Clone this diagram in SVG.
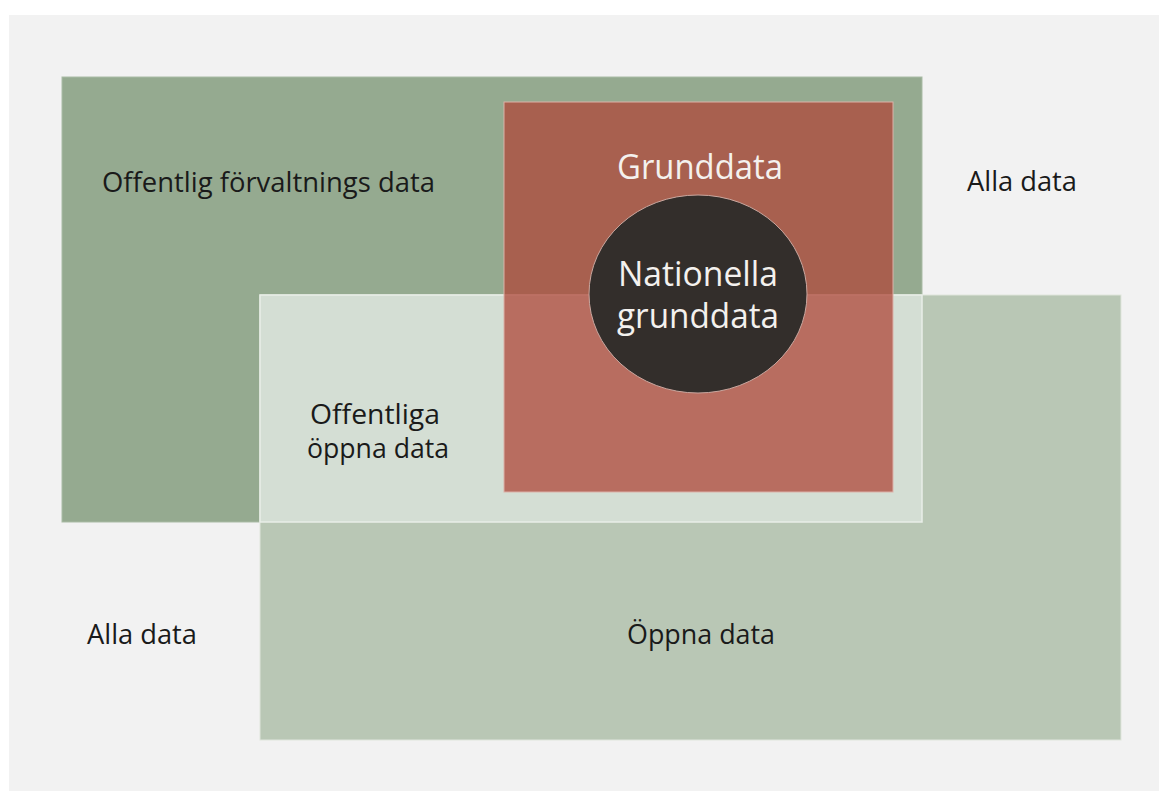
<svg xmlns="http://www.w3.org/2000/svg" width="1159" height="791" viewBox="0 0 1159 791">
  <style>
    .lbl { font-family: "Open Sans", "Noto Sans", "DejaVu Sans", sans-serif; font-size: 27px; fill: #1a1a1a; }
    .wlbl { font-family: "Open Sans", "Noto Sans", "DejaVu Sans", sans-serif; font-size: 34px; fill: #f4f1ee; }
  </style>
  <rect x="0" y="0" width="1159" height="791" fill="#ffffff"/>
  <rect id="panel" x="9" y="15" width="1150" height="776" fill="#f2f2f2"/>
  <g id="offentlig-forvaltning">
    <rect x="62" y="77" width="860" height="445" fill="#95aa90" stroke="#a9bba5" stroke-width="1"/>
    <text class="lbl" x="102" y="192" textLength="333" lengthAdjust="spacingAndGlyphs">Offentlig förvaltnings data</text>
  </g>
  <g id="oppna-data">
    <rect x="260" y="295" width="861" height="445" fill="#b9c7b5" stroke="#dfe5dc" stroke-width="1"/>
    <text class="lbl" x="701" y="644" text-anchor="middle" textLength="148" lengthAdjust="spacingAndGlyphs">Öppna data</text>
  </g>
  <g id="offentliga-oppna-data">
    <rect x="260" y="295" width="662" height="227" fill="#d4ded4" stroke="#e9eee8" stroke-width="1.5"/>
    <text class="lbl" x="375" y="424" text-anchor="middle" textLength="130" lengthAdjust="spacingAndGlyphs">Offentliga</text>
    <text class="lbl" x="378" y="458" text-anchor="middle" textLength="142" lengthAdjust="spacingAndGlyphs">öppna data</text>
  </g>
  <g id="grunddata">
    <rect x="504" y="102" width="389" height="390" fill="#af4739" fill-opacity="0.75" stroke="#dcb1a8" stroke-width="1"/>
    <text class="wlbl" x="700" y="179" text-anchor="middle" textLength="166" lengthAdjust="spacingAndGlyphs">Grunddata</text>
  </g>
  <g id="nationella-grunddata">
    <ellipse cx="698" cy="294" rx="109" ry="99" fill="#332e2b" stroke="#c9a79f" stroke-width="1"/>
    <text class="wlbl" x="698" y="286" text-anchor="middle" textLength="160" lengthAdjust="spacingAndGlyphs">Nationella</text>
    <text class="wlbl" x="698" y="328" text-anchor="middle" textLength="162" lengthAdjust="spacingAndGlyphs">grunddata</text>
  </g>
  <g id="alla-data-top">
    <text class="lbl" x="967" y="191" textLength="110" lengthAdjust="spacingAndGlyphs">Alla data</text>
  </g>
  <g id="alla-data-bottom">
    <text class="lbl" x="87" y="644" textLength="110" lengthAdjust="spacingAndGlyphs">Alla data</text>
  </g>
  <g id="connectors"/>
</svg>
